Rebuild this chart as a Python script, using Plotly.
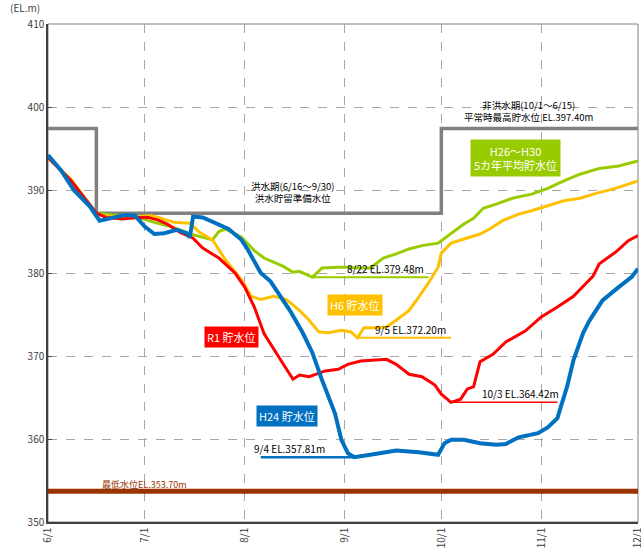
import plotly.graph_objects as go

YEAR = "2019-"

# ---------------- data ----------------
month_ticks = ["06-01", "07-01", "08-01", "09-01", "10-01", "11-01", "12-01"]
month_labels = ["6/1", "7/1", "8/1", "9/1", "10/1", "11/1", "12/1"]
y_ticks = [350, 360, 370, 380, 390, 400, 410]

h24_dates = ["06-01", "06-05", "06-09", "06-14", "06-17", "06-20", "06-25", "06-28",
             "07-01", "07-04", "07-07", "07-11", "07-14", "07-15", "07-16", "07-19",
             "07-24", "07-27", "07-31", "08-02", "08-06", "08-09", "08-15", "08-19",
             "08-22", "08-25", "08-29", "08-31", "09-02", "09-04", "09-09", "09-17",
             "09-24", "09-30", "10-02", "10-04", "10-08", "10-13", "10-18", "10-21",
             "10-25", "10-28", "10-31", "11-03", "11-06", "11-07", "11-09", "11-11",
             "11-14", "11-16", "11-20", "11-25", "11-29", "12-01"]
h24_vals = [394.2, 392.4, 390.0, 388.0, 386.3, 386.6, 387.0, 386.9,
            385.6, 384.7, 384.8, 385.2, 384.8, 384.3, 386.8, 386.7,
            385.8, 385.3, 384.0, 382.8, 380.0, 379.0, 375.5, 372.8,
            370.4, 367.1, 363.1, 359.9, 358.3, 357.81, 358.1, 358.6,
            358.4, 358.1, 359.5, 359.9, 359.9, 359.5, 359.3, 359.4,
            360.2, 360.5, 360.7, 361.4, 362.5, 363.8, 366.3, 369.5,
            372.8, 374.3, 376.7, 378.3, 379.5, 380.5]

r1_dates = ["06-01", "06-08", "06-16", "06-19", "06-24", "06-29", "07-02", "07-05",
            "07-08", "07-12", "07-16", "07-19", "07-24", "07-29", "08-01", "08-04",
            "08-07", "08-10", "08-13", "08-16", "08-18", "08-21", "08-26", "08-30",
            "09-02", "09-06", "09-09", "09-14", "09-17", "09-21", "09-25", "09-29",
            "10-01", "10-04", "10-07", "10-09", "10-11", "10-13", "10-17", "10-21",
            "10-27", "11-01", "11-06", "11-11", "11-14", "11-17", "11-19", "11-24",
            "11-28", "12-01"]
r1_vals = [393.9, 391.2, 387.2, 386.7, 386.5, 386.7, 386.7, 386.4,
           385.9, 384.9, 384.2, 383.0, 381.8, 380.0, 378.3, 375.9,
           372.7, 370.8, 369.0, 367.2, 367.7, 367.5, 368.2, 368.4,
           369.0, 369.4, 369.5, 369.6, 369.0, 367.8, 367.5, 366.5,
           365.4, 364.42, 364.8, 366.0, 366.3, 369.3, 370.2, 371.7,
           373.0, 374.7, 375.9, 377.2, 378.4, 379.6, 381.1, 382.5,
           383.9, 384.5]

h6_dates = ["06-01", "06-08", "06-16", "06-24", "07-03", "07-06", "07-10", "07-15",
            "07-18", "07-22", "07-26", "07-31", "08-03", "08-06", "08-10", "08-14",
            "08-18", "08-21", "08-24", "08-27", "08-31", "09-03", "09-05", "09-07",
            "09-11", "09-14", "09-17", "09-21", "09-24", "09-27", "09-30", "10-01",
            "10-04", "10-08", "10-13", "10-16", "10-20", "10-25", "10-29", "11-03",
            "11-08", "11-13", "11-18", "11-24", "12-01"]
h6_vals = [393.9, 391.3, 387.0, 386.7, 386.9, 386.6, 386.1, 386.0,
           384.9, 384.0, 381.6, 379.2, 377.2, 376.8, 377.2, 376.8,
           375.5, 374.3, 372.9, 372.8, 373.1, 372.9, 372.2, 373.4,
           373.4, 373.5, 374.3, 375.5, 377.1, 378.8, 380.7, 382.4,
           383.6, 384.1, 384.7, 385.3, 386.3, 387.1, 387.5, 388.1,
           388.7, 389.0, 389.6, 390.2, 391.1]

avg_dates = ["06-01", "06-08", "06-16", "06-24", "06-30", "07-04", "07-08", "07-12",
             "07-16", "07-20", "07-22", "07-24", "07-26", "07-31", "08-04", "08-07",
             "08-10", "08-13", "08-16", "08-18", "08-22", "08-25", "08-30", "09-02",
             "09-05", "09-09", "09-13", "09-17", "09-21", "09-25", "09-30", "10-04",
             "10-08", "10-11", "10-14", "10-18", "10-23", "10-29", "11-03", "11-08",
             "11-13", "11-19", "11-25", "12-01"]
avg_vals = [393.9, 391.3, 387.2, 386.9, 386.6, 386.1, 385.7, 385.2,
            384.6, 384.2, 384.0, 385.0, 385.3, 384.3, 382.7, 381.8,
            381.3, 380.8, 380.1, 380.2, 379.48, 380.6, 380.7, 380.7,
            380.6, 380.6, 381.8, 382.3, 382.9, 383.3, 383.6, 384.8,
            385.9, 386.6, 387.8, 388.3, 389.0, 389.5, 390.2, 391.1,
            391.9, 392.6, 392.9, 393.5]

rule_dates = ["06-01", "06-16", "06-16", "10-01", "10-01", "12-01"]
rule_vals = [397.4, 397.4, 387.2, 387.2, 397.4, 397.4]

min_level_dates = ["06-01", "12-01"]
min_level_vals = [353.7, 353.7]

# minimum-value marker lines: (start, end, value)
avg_min = ("08-22", "09-27", 379.48)
h6_min = ("09-05", "10-04", 372.20)
r1_min = ("10-04", "11-06", 364.42)
h24_min = ("08-06", "09-04", 357.81)

C_BLUE = "#0070c0"
C_RED = "#ff0000"
C_YEL = "#ffc000"
C_GRN = "#99cc00"
C_GRAY = "#808080"
C_BROWN = "#993300"
FONT = "Noto Sans CJK JP"


def d(s):
    return YEAR + s


fig = go.Figure()

fig.add_trace(go.Scatter(x=[d(s) for s in min_level_dates], y=min_level_vals, mode="lines",
                         line=dict(color=C_BROWN, width=5)))
fig.add_trace(go.Scatter(x=[d(s) for s in rule_dates], y=rule_vals, mode="lines",
                         line=dict(color=C_GRAY, width=3.5)))

for mn, col, w in [(avg_min, C_GRN, 2), (h6_min, C_YEL, 2), (r1_min, C_RED, 1.5), (h24_min, C_BLUE, 2.5)]:
    fig.add_trace(go.Scatter(x=[d(mn[0]), d(mn[1])], y=[mn[2], mn[2]], mode="lines",
                             line=dict(color=col, width=w)))

fig.add_trace(go.Scatter(x=[d(s) for s in avg_dates], y=avg_vals, mode="lines",
                         line=dict(color=C_GRN, width=3)))
fig.add_trace(go.Scatter(x=[d(s) for s in h6_dates], y=h6_vals, mode="lines",
                         line=dict(color=C_YEL, width=3)))
fig.add_trace(go.Scatter(x=[d(s) for s in r1_dates], y=r1_vals, mode="lines",
                         line=dict(color=C_RED, width=3)))
fig.add_trace(go.Scatter(x=[d(s) for s in h24_dates], y=h24_vals, mode="lines",
                         line=dict(color=C_BLUE, width=4)))

ann = []


def text(x, y, t, size=10, color="#000000", **kw):
    ann.append(dict(x=x, y=y, text=t, showarrow=False, xref="x", yref="y",
                    font=dict(family=FONT, size=size, color=color), **kw))


text(d("10-28"), 399.5, "非洪水期(10/1～6/15)<br>平常時最高貯水位 EL.397.40m", size=9.5)
text(d("08-16"), 389.8, "洪水期(6/16～9/30)<br>洪水貯留準備水位", size=9.5)
text(d("07-01"), 354.5, "最低水位EL.353.70m", size=9, color=C_BROWN)

text(d("09-13 16:00"), 379.48, "8/22 EL.379.48m", yanchor="bottom", yshift=-1)
text(d("09-21 12:00"), 372.20, "9/5 EL.372.20m", yanchor="bottom", yshift=-1)
text(d("10-25 12:00"), 364.42, "10/3 EL.364.42m", yanchor="bottom", yshift=-1)
text(d("08-15"), 357.81, "9/4 EL.357.81m", yanchor="bottom", yshift=-1)

text(d("10-24"), 393.8, "H26～H30<br>5カ年平均貯水位", size=11, color="#ffffff",
     bgcolor=C_GRN, borderpad=3)
text(d("09-04 08:00"), 376.1, "H6 貯水位", size=11, color="#ffffff", bgcolor=C_YEL, borderpad=2)
text(d("07-28"), 372.3, "R1 貯水位", size=11, color="#ffffff", bgcolor=C_RED, borderpad=2)
text(d("08-14 06:00"), 362.8, "H24 貯水位", size=11, color="#ffffff", bgcolor=C_BLUE, borderpad=2)

ann.append(dict(x=-0.068, y=1.034, xref="paper", yref="paper", text="(EL.m)", showarrow=False,
                xanchor="left", yanchor="middle",
                font=dict(family=FONT, size=10, color="#404040")))

fig.update_layout(
    width=641, height=552,
    margin=dict(l=48, r=3, t=24, b=30),
    paper_bgcolor="#ffffff", plot_bgcolor="#ffffff",
    showlegend=False,
    annotations=ann,
    font=dict(family=FONT, size=10, color="#404040"),
)
fig.update_xaxes(
    range=[d("06-01"), d("12-01")],
    tickvals=[d(s) for s in month_ticks], ticktext=month_labels,
    tickangle=-90, tickfont=dict(size=10, color="#404040"),
    ticklabeloverflow="allow",
    showgrid=True, gridcolor="#a6a6a6", griddash="dash", gridwidth=1,
    showline=True, linecolor="#404040", linewidth=1.5,
    ticks="", zeroline=False, automargin=False,
)
fig.update_yaxes(
    range=[350, 410], tickvals=y_ticks,
    tickfont=dict(size=10, color="#404040"),
    showgrid=True, gridcolor="#a6a6a6", griddash="dash", gridwidth=1,
    showline=True, linecolor="#404040", linewidth=1.5,
    ticks="inside", ticklen=4, tickcolor="#404040",
    zeroline=False, automargin=False,
)
fig.add_shape(type="rect", xref="paper", yref="paper", x0=0, x1=1, y0=0, y1=1,
              line=dict(color="#808080", width=1), layer="below")

fig.write_html(
    "out.html",
    config={"displayModeBar": False},
    post_script="document.body.style.margin='0';document.body.style.overflow='hidden';",
)
